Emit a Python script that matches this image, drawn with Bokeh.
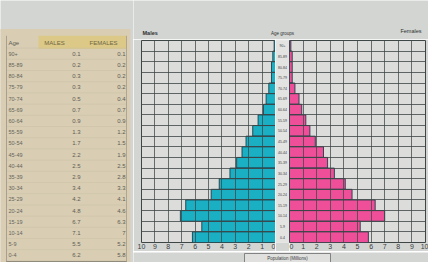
from bokeh.plotting import figure
from bokeh.layouts import row, column
from bokeh.models import Range1d, FixedTicker, ColumnDataSource
from bokeh.core.properties import value
from bokeh.embed import file_html
from bokeh.resources import INLINE

# ---- data (table order, oldest first) ----
ages = ["90+", "85-89", "80-84", "75-79", "70-74", "65-69", "60-64", "55-59", "50-54",
        "45-49", "40-44", "35-39", "30-34", "25-29", "20-24", "15-19", "10-14", "5-9", "0-4"]
males = [0.1, 0.2, 0.3, 0.3, 0.5, 0.7, 0.9, 1.3, 1.7, 2.2, 2.5, 2.9, 3.4, 4.2, 4.8, 6.7, 7.1, 5.5, 6.2]
females = [0.1, 0.2, 0.2, 0.2, 0.4, 0.7, 0.9, 1.2, 1.5, 1.9, 2.5, 2.8, 3.3, 4.1, 4.6, 6.3, 7, 5.2, 5.8]
male_labels = ["0.1", "0.2", "0.3", "0.3", "0.5", "0.7", "0.9", "1.3", "1.7", "2.2", "2.5", "2.9",
               "3.4", "4.2", "4.8", "6.7", "7.1", "5.5", "6.2"]
female_labels = ["0.1", "0.2", "0.2", "0.2", "0.4", "0.7", "0.9", "1.2", "1.5", "1.9", "2.5", "2.8",
                 "3.3", "4.1", "4.6", "6.3", "7", "5.2", "5.8"]
x_ticks = [0, 1, 2, 3, 4, 5, 6, 7, 8, 9, 10]

FONT = value("Liberation Sans")
BG = "#d3d5d3"
FRAME_BG = "#dcdddb"
GRID = "#3f4646"
CYAN = "#1aafc2"
PINK = "#ef4f98"

n = len(ages)
pos = [n - 1 - i for i in range(n)]          # 0-4 at bottom
row_idx = [i + 1 for i in range(n)]          # table row index (header = 0)

src = ColumnDataSource(dict(age=ages, m=males, f=females, pos=pos, row=row_idx,
                            ml=male_labels, fl=female_labels))


def base(width, height, xr, yr, bl=0, br=0, bt=0, bb=0, bg=BG, fbg=FRAME_BG):
    p = figure(width=width, height=height, x_range=xr, y_range=yr, title=None,
               output_backend="svg", toolbar_location=None, tools="")
    p.min_border = 0
    p.min_border_left = bl
    p.min_border_right = br
    p.min_border_top = bt
    p.min_border_bottom = bb
    p.background_fill_color = fbg
    p.border_fill_color = bg
    p.outline_line_color = None
    return p


# ---- table figure (page x 8..141, y 8..270) ----
tbl = base(133, 262, Range1d(8, 141), Range1d(19.64, -3.75), bg=BG, fbg=BG)
tbl.axis.visible = False
tbl.grid.visible = False
tbl.quad(left=6, right=138, top=-1.2, bottom=20.5, fill_color="#d9ceb3", line_color=None)
tbl.quad(left=46, right=134, top=-0.6, bottom=0.55, fill_color="#dcc779", fill_alpha=0.75, line_color=None)
tbl.segment(x0=14, y0=-0.6, x1=14, y1=19.6, line_color="#9a9484", line_width=0.8)
tbl.segment(x0=134, y0=-0.6, x1=134, y1=19.6, line_color="#a49c88", line_width=0.8)
tbl.segment(x0=14, y0=19.55, x1=134, y1=19.55, line_color="#8a8576", line_width=1)
tbl.segment(x0=14, y0=19.75, x1=134, y1=19.75, line_color="#8a8576", line_width=0.6)
tbl.segment(x0=14, y0=[r + 0.5 for r in range(n + 1)], x1=134, y1=[r + 0.5 for r in range(n + 1)],
            line_color="#bdb49e", line_width=0.5, line_alpha=0.6)
tbl.text(x=[16], y=[0], text=["Age"], text_font=FONT, text_font_size="6px",
         text_color="#5c5a52", text_baseline="middle")
tbl.text(x=[62, 111], y=[0, 0], text=["MALES", "FEMALES"], text_font=FONT, text_font_size="6px",
         text_color="#6e6640", text_baseline="middle", text_align="center")
tbl.text(x=16, y="row", text="age", source=src, text_font=FONT, text_font_size="5.5px",
         text_color="#66645c", text_baseline="middle")
tbl.text(x=88, y="row", text="ml", source=src, text_font=FONT, text_font_size="6px",
         text_color="#5e5c55", text_baseline="middle", text_align="right")
tbl.text(x=133, y="row", text="fl", source=src, text_font=FONT, text_font_size="6px",
         text_color="#5e5c55", text_baseline="middle", text_align="right")

# ---- header (page y 8..47) ----
hdr = base(295, 39, Range1d(141, 436), Range1d(47, 8), fbg=BG)
hdr.axis.visible = False
hdr.grid.visible = False
hdr.text(x=[150], y=[40], text=["Males"], text_font=FONT, text_font_size="5.5px",
         text_font_style="bold", text_color="#2e3030", text_baseline="middle")
hdr.text(x=[290], y=[41], text=["Age groups"], text_font=FONT, text_font_size="4.5px",
         text_color="#2e3030", text_baseline="middle", text_align="center")
hdr.text(x=[429], y=[38], text=["Females"], text_font=FONT, text_font_size="5.5px",
         text_color="#2e3030", text_baseline="middle", text_align="right")


def pyramid(width, xr, bl, br, color, field):
    p = base(width, 212, xr, Range1d(-0.5, n - 0.5), bl=bl, br=br, bt=1, bb=8)
    p.hbar(y="pos", left=0, right=field, height=1, source=src, fill_color=color,
           line_color="#1f3c48", line_width=0.9)
    p.outline_line_color = GRID
    p.outline_line_width = 1
    p.xaxis.ticker = FixedTicker(ticks=x_ticks)
    p.xaxis.major_label_text_font_size = "7px"
    p.xaxis.major_label_text_font = "Liberation Sans"
    p.xaxis.major_label_text_color = "#3a3c3c"
    p.xaxis.major_label_standoff = 1
    p.xaxis.major_tick_out = 0
    p.xaxis.major_tick_in = 0
    p.xaxis.minor_tick_out = 0
    p.xaxis.minor_tick_in = 0
    p.xaxis.axis_line_color = None
    p.yaxis.visible = False
    p.xgrid.ticker = FixedTicker(ticks=x_ticks)
    p.xgrid.grid_line_color = GRID
    p.xgrid.grid_line_alpha = 0.75
    p.xgrid.level = "overlay"
    p.ygrid.ticker = FixedTicker(ticks=[i + 0.5 for i in range(n - 1)])
    p.ygrid.grid_line_color = GRID
    p.ygrid.grid_line_alpha = 0.8
    p.ygrid.level = "overlay"
    return p


male = pyramid(142, Range1d(10, 0), 8, 0, CYAN, "m")
female = pyramid(139, Range1d(0, 10), 0, 3, PINK, "f")

# ---- centre age labels ----
ctr = base(14, 212, Range1d(-1, 1), Range1d(-0.5, n - 0.5), bt=1, bb=8, fbg="#e3e4e2")
ctr.axis.visible = False
ctr.grid.visible = False
ctr.text(x=0, y="pos", text="age", source=src, text_font=FONT, text_font_size="3.5px",
         text_color="#3a3c3c", text_baseline="middle", text_align="center")

# ---- footer (page y 259..270) ----
ftr = base(295, 11, Range1d(141, 436), Range1d(270, 259), fbg=BG)
ftr.axis.visible = False
ftr.grid.visible = False
ftr.quad(left=252, right=338, top=260, bottom=275, fill_color="#e0e1df", line_color="#6a6c6c", line_width=0.8)
ftr.text(x=[295], y=[264.8], text=["Population (Millions)"], text_font=FONT, text_font_size="4.5px",
         text_color="#3a3c3c", text_baseline="middle", text_align="center")

layout = row(tbl, column(hdr, row(male, ctr, female), ftr))

open("out.html", "w").write(file_html(layout, INLINE))
